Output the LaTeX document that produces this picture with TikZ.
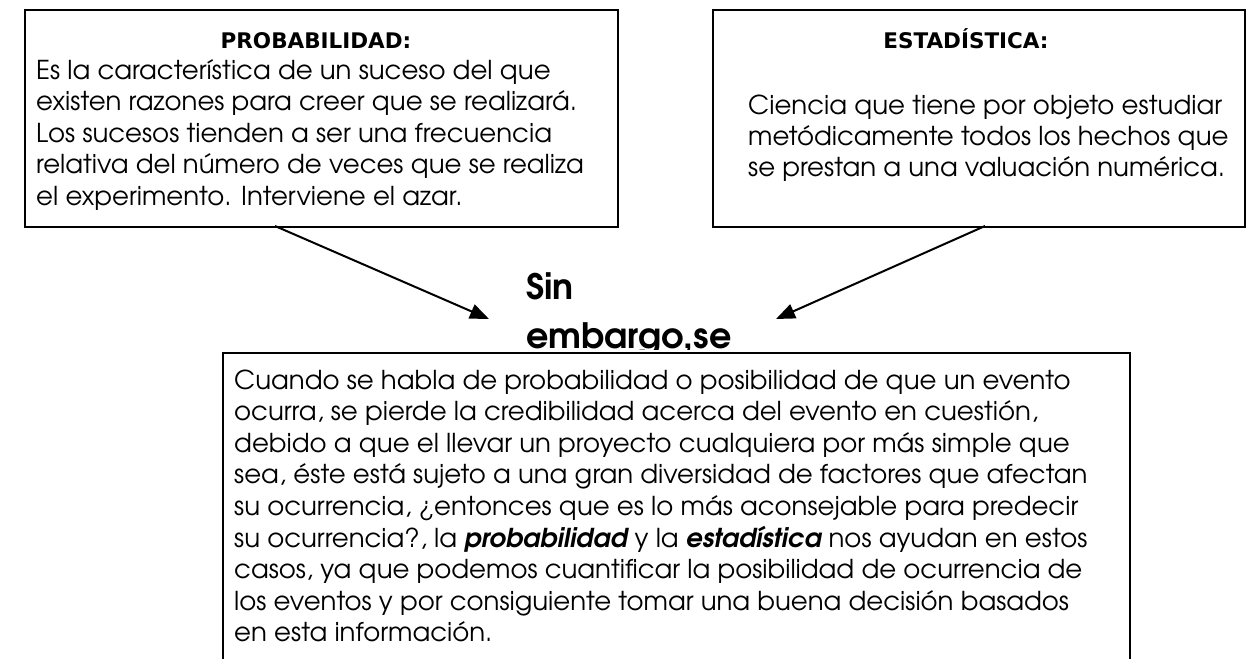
\documentclass[tikz,border=0pt]{standalone}
\usepackage{fontspec}
\usetikzlibrary{arrows.meta}
\newfontfamily\adv{texgyreadventor}[Extension=.otf,UprightFont=*-regular,BoldFont=*-bold,ItalicFont=*-italic,BoldItalicFont=*-bolditalic]
\newfontfamily\headfont{DejaVu Sans}
\tikzset{
  box/.style={draw=black, line width=1.8pt, fill=white, rectangle, inner sep=0pt, anchor=north west},
  bodyline/.style={anchor=base west, inner sep=0pt, font=\adv\fontsize{26}{31}\selectfont},
  headline/.style={anchor=base, inner sep=0pt, font=\headfont\bfseries\fontsize{21.5}{25}\selectfont},
  bigline/.style={anchor=base west, inner sep=0pt, font=\adv\bfseries\fontsize{35}{42}\selectfont},
  conn/.style={line width=2pt, -{Triangle[length=19pt,width=15pt]}}
}
\begin{document}
\begin{tikzpicture}[x=1pt,y=-1pt]
\useasboundingbox (0,0) rectangle (1254,659);
\clip (0,0) rectangle (1254,659);
\fill[white] (0,0) rectangle (1254,659);
% boxes
\node[box, minimum width=593pt, minimum height=217pt] (prob) at (24,9) {};
\node[box, minimum width=532pt, minimum height=217pt] (est) at (712,9) {};
% Sin embargo (its lower part is cut off just below the baseline)
\begin{scope}
\clip (500,250) rectangle (760,349.5);
\node[bigline] (sin) at (526,299) {Sin};
\node[bigline] (emb) at (526,348) {embargo,se};
\end{scope}
\node[box, minimum width=907pt, minimum height=360pt] (main) at (222,352) {};
% headings
\node[headline] (probh) at (316,48) {PROBABILIDAD:};
\node[headline] (esth) at (966,48) {ESTADÍSTICA:};
% box 1 text
\foreach \t [count=\i from 0] in {{Es la característica de un suceso del que},
  {existen razones para creer que se realizará.},
  {Los sucesos tienden a ser una frecuencia},
  {relativa del número de veces que se realiza},
  {el experimento. Interviene el azar.}}
  \node[bodyline] (p\i) at (36,79+31.6*\i) {\t};
% box 2 text
\foreach \t [count=\i from 0] in {{Ciencia que tiene por objeto estudiar},
  {metódicamente todos los hechos que},
  {se prestan a una valuación numérica.}}
  \node[bodyline] (e\i) at (748,114+31.2*\i) {\t};
% main text
\foreach \t [count=\i from 0] in {{Cuando se habla de probabilidad o posibilidad de que un evento},
  {ocurra, se pierde la credibilidad acerca del evento en cuestión,},
  {debido a que el llevar un proyecto cualquiera por más simple que},
  {sea, éste está sujeto a una gran diversidad de factores que afectan},
  {su ocurrencia, ¿entonces que es lo más aconsejable para predecir},
  {su ocurrencia?, la {\bfseries\itshape probabilidad} y la {\bfseries\itshape estadística} nos ayudan en estos},
  {casos, ya que podemos cuantificar la posibilidad de ocurrencia de},
  {los eventos y por consiguiente tomar una buena decisión basados},
  {en esta información.}}
  \node[bodyline] (m\i) at (234,389+31.6*\i) {\t};
% connectors
\coordinate (a1s) at (275,226);
\coordinate (a1e) at (489,319);
\coordinate (a2s) at (985,226);
\coordinate (a2e) at (776,319);
\draw[conn] (a1s) -- (a1e);
\draw[conn] (a2s) -- (a2e);
\end{tikzpicture}
\end{document}
